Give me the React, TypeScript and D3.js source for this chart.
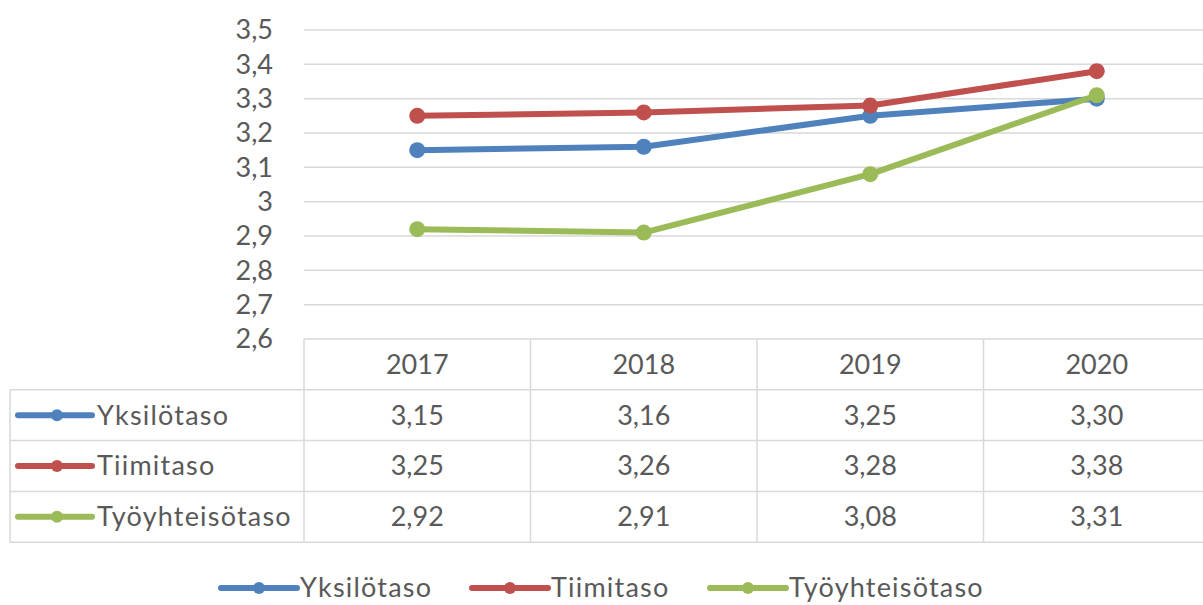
import React from "react";
import * as d3 from "d3";

const categories = ["2017", "2018", "2019", "2020"];
const seriesNames = ["Yksilötaso", "Tiimitaso", "Työyhteisötaso"];
const yksilotaso = [3.15, 3.16, 3.25, 3.3];
const tiimitaso = [3.25, 3.26, 3.28, 3.38];
const tyoyhteisotaso = [2.92, 2.91, 3.08, 3.31];
const seriesColors = ["#4F81BD", "#C0504D", "#9BBB59"];
const yTicks = [2.6, 2.7, 2.8, 2.9, 3.0, 3.1, 3.2, 3.3, 3.4, 3.5];

const W = 1203;
const H = 605;
const FONT = "Lato, 'Open Sans', sans-serif";
const TXT = "#595959";
const GRID = "#D9D9D9";
const FS = 27;
const NAME_LS = 1.2;

const fmtAxis = (v: number) => {
  const s = d3.format(".1f")(v);
  return (s.endsWith(".0") ? s.slice(0, -2) : s).replace(".", ",");
};
const fmtVal = (v: number) => d3.format(".2f")(v).replace(".", ",");

export default function App() {
  const series = [yksilotaso, tiimitaso, tyoyhteisotaso];
  const x = d3.scaleBand<string>().domain(categories).range([304, 1210]);
  const y = d3.scaleLinear().domain([2.6, 3.5]).range([339, 30]);
  const cx = (c: string) => (x(c) as number) + x.bandwidth() / 2;
  const line = d3
    .line<number>()
    .x((_, i) => cx(categories[i]))
    .y((d) => y(d));

  const tableTop = y(2.6);
  const rowH = 50.8;
  const tableLeft = 10;
  const rows = [tableTop, tableTop + rowH, tableTop + 2 * rowH, tableTop + 3 * rowH, tableTop + 4 * rowH];
  const xEdges = [...categories.map((c) => x(c) as number), 1210];

  const legendItems = [
    { lx: 221, tx: 300 },
    { lx: 472, tx: 551 },
    { lx: 710, tx: 789 },
  ];
  const legendY = 588;

  return (
    <svg width={W} height={H} style={{ position: "absolute", left: 0, top: 0 }} fontFamily={FONT}>
      <rect width={W} height={H} fill="#fff" />
      {/* gridlines */}
      {yTicks.slice(1).map((t) => (
        <line key={t} x1={304} x2={1210} y1={y(t)} y2={y(t)} stroke={GRID} strokeWidth={1.5} />
      ))}
      {/* y labels */}
      {yTicks.map((t) => (
        <text key={t} x={273} y={y(t)} dy="0.35em" textAnchor="end" fontSize={FS} fill={TXT}>
          {fmtAxis(t)}
        </text>
      ))}
      {/* table grid */}
      <line x1={304} x2={1210} y1={rows[0]} y2={rows[0]} stroke={GRID} strokeWidth={1.5} />
      {rows.slice(1).map((r, i) => (
        <line key={i} x1={tableLeft} x2={1210} y1={r} y2={r} stroke={GRID} strokeWidth={1.5} />
      ))}
      <line x1={tableLeft} x2={tableLeft} y1={rows[1]} y2={rows[4]} stroke={GRID} strokeWidth={1.5} />
      {xEdges.map((e, i) => (
        <line key={i} x1={e} x2={e} y1={rows[0]} y2={rows[4]} stroke={GRID} strokeWidth={1.5} />
      ))}
      {/* header */}
      {categories.map((c) => (
        <text key={c} x={cx(c)} y={(rows[0] + rows[1]) / 2} dy="0.35em" textAnchor="middle" fontSize={FS} fill={TXT}>
          {c}
        </text>
      ))}
      {/* table rows */}
      {seriesNames.map((name, si) => {
        const ry = (rows[si + 1] + rows[si + 2]) / 2;
        return (
          <g key={name}>
            <line x1={18} x2={92} y1={ry} y2={ry} stroke={seriesColors[si]} strokeWidth={6} strokeLinecap="round" />
            <circle cx={57} cy={ry} r={6} fill={seriesColors[si]} />
            <text x={97} y={ry} dy="0.35em" fontSize={FS} fill={TXT} letterSpacing={NAME_LS}>
              {name}
            </text>
            {series[si].map((v, i) => (
              <text key={i} x={cx(categories[i])} y={ry} dy="0.35em" textAnchor="middle" fontSize={FS} fill={TXT}>
                {fmtVal(v)}
              </text>
            ))}
          </g>
        );
      })}
      {/* lines */}
      {series.map((s, si) => (
        <g key={si}>
          <path d={line(s) || ""} fill="none" stroke={seriesColors[si]} strokeWidth={6} strokeLinejoin="round" strokeLinecap="round" />
          {s.map((v, i) => (
            <circle key={i} cx={cx(categories[i])} cy={y(v)} r={8} fill={seriesColors[si]} />
          ))}
        </g>
      ))}
      {/* legend */}
      {seriesNames.map((name, si) => (
        <g key={name}>
          <line x1={legendItems[si].lx} x2={legendItems[si].lx + 76} y1={legendY} y2={legendY} stroke={seriesColors[si]} strokeWidth={6} strokeLinecap="round" />
          <circle cx={legendItems[si].lx + 38} cy={legendY} r={6} fill={seriesColors[si]} />
          <text x={legendItems[si].tx} y={legendY} dy="0.35em" fontSize={FS} fill={TXT} letterSpacing={NAME_LS}>
            {name}
          </text>
        </g>
      ))}
    </svg>
  );
}
